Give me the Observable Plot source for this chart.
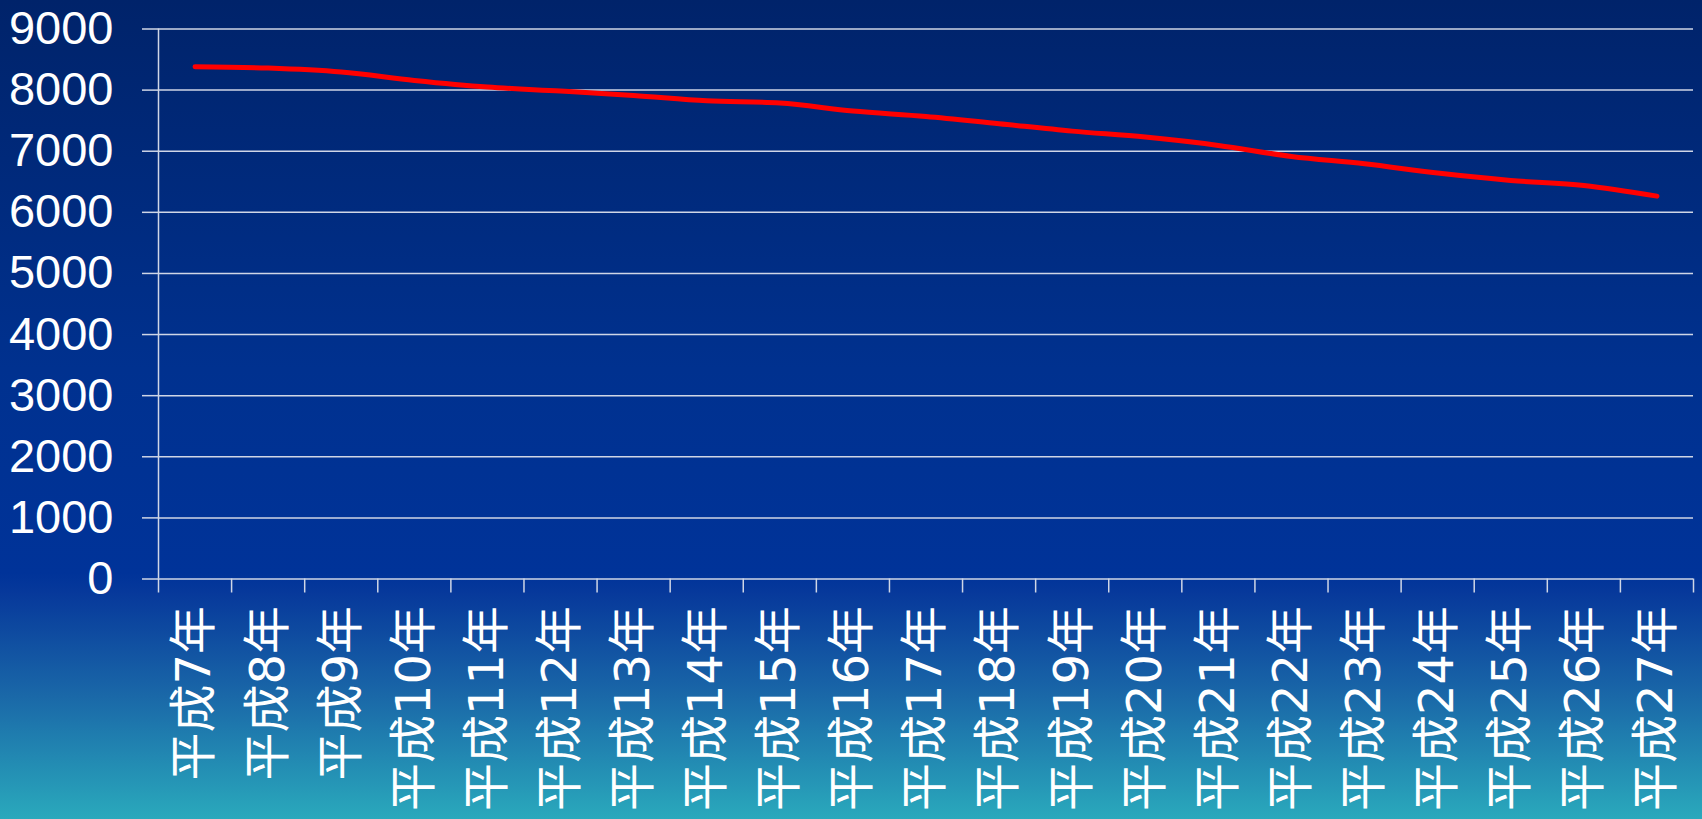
<!DOCTYPE html>
<html>
<head>
<meta charset="utf-8">
<script src="https://cdn.jsdelivr.net/npm/d3@7"></script>
<script src="https://cdn.jsdelivr.net/npm/@observablehq/plot@0.6"></script>
<style>
  html, body { margin: 0; padding: 0; }
  body {
    width: 1702px; height: 819px; overflow: hidden;
    background: linear-gradient(to bottom, #00236a 0%, #00318f 45%, #003399 70%, #07399b 72.5%, #1a68a8 85%, #2aa9bc 100%);
  }
  #chart svg { display: block; }
</style>
</head>
<body>
<div id="chart"></div>
<script>
const categories = ["平成7年","平成8年","平成9年","平成10年","平成11年","平成12年","平成13年","平成14年","平成15年","平成16年","平成17年","平成18年","平成19年","平成20年","平成21年","平成22年","平成23年","平成24年","平成25年","平成26年","平成27年"];
const values = [8383, 8360, 8295, 8159, 8050, 7984, 7913, 7826, 7788, 7657, 7570, 7450, 7329, 7231, 7095, 6915, 6795, 6642, 6522, 6440, 6265];
const yTicks = [0, 1000, 2000, 3000, 4000, 5000, 6000, 7000, 8000, 9000];

const indices = categories.map((c, i) => i);
const boundaries = d3.range(categories.length + 1).map(i => i - 0.5);
const gridColor = "#cfd6e6";

const chart = Plot.plot({
  width: 1702,
  height: 819,
  marginLeft: 158,
  marginRight: 9,
  marginTop: 28.5,
  marginBottom: 240.5,
  style: {background: "transparent", color: "white", fontFamily: "'Liberation Sans', Arial, sans-serif", overflow: "visible"},
  x: {type: "linear", domain: [-0.5, categories.length - 0.5], axis: null},
  y: {domain: [0, 9000], axis: null},
  marks: [
    Plot.gridY(yTicks, {stroke: gridColor, strokeOpacity: 1, strokeWidth: 1.5}),
    Plot.axisY(yTicks, {anchor: "left", tickSize: 16, tickPadding: 29, fontSize: 47, stroke: gridColor, strokeWidth: 1.5, fill: "white", tickFormat: d3.format("d"), label: null}),
    Plot.ruleX([-0.5], {y1: 0, y2: 9000, stroke: gridColor, strokeWidth: 1.5}),
    Plot.axisX(boundaries, {anchor: "bottom", tickSize: 14, stroke: gridColor, strokeWidth: 1.5, tickFormat: () => "", label: null}),
    Plot.axisX(indices, {anchor: "bottom", tickSize: 0, tickPadding: 27, tickRotate: -90, fontSize: 48, fill: "white", fontFamily: "'DejaVu Sans', 'Noto Sans CJK JP', sans-serif", tickFormat: i => categories[i], label: null}),
    Plot.line(indices, {x: i => i, y: i => values[i], stroke: "#ff0000", strokeWidth: 5, strokeLinecap: "round", strokeLinejoin: "round", curve: "monotone-x"})
  ]
});
document.getElementById("chart").append(chart);
</script>
</body>
</html>
